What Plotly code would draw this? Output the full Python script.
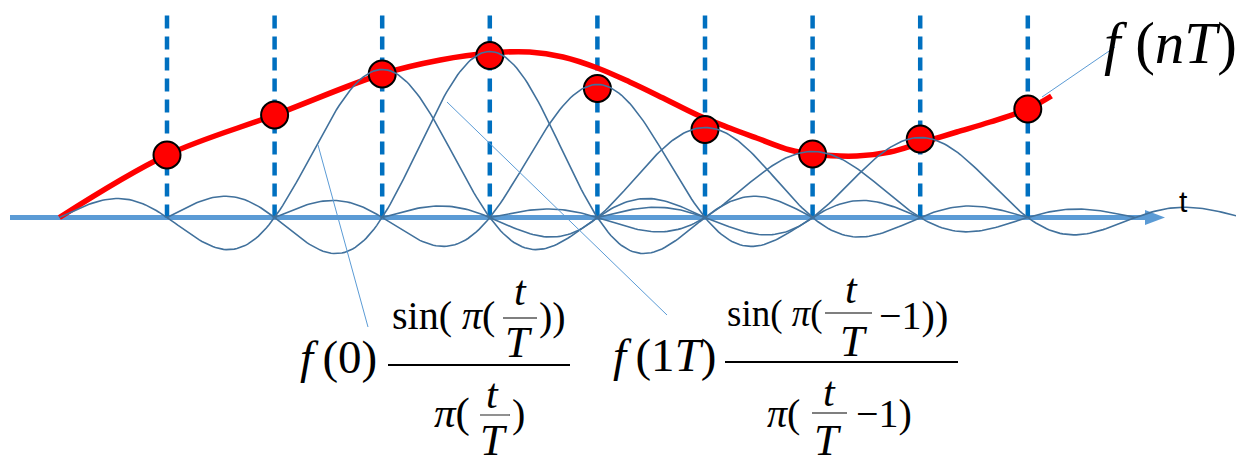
import numpy as np
import plotly.graph_objects as go

W, H = 1244, 455
OFF = 8  # page margin of the browser body
FW, FH = W - OFF, H - OFF

# sample instants (in units of T) and sampled values f(nT)
sample_n = [1, 2, 3, 4, 5, 6, 7, 8, 9]
sample_v = [62.5, 102.5, 143.5, 162, 129, 88, 63.5, 78.5, 108.5]

# shifted sinc pulses that are drawn: centre and peak height
sinc_n = [3, 4, 5, 6, 7, 8]
sinc_amp = [148, 166, 133, 90, 66, 80]

# hand drawn reconstructed signal (red)
red_t = [0.0, 1.0, 2.0, 3.0, 3.54, 4.0, 4.37, 4.68, 5.0, 5.30, 5.61, 5.93,
         6.23, 6.48, 6.79, 7.0, 7.41, 7.72, 8.03, 8.34, 8.65, 9.0, 9.22]
red_v = [0, 62.5, 102.5, 143.5, 157.5, 164.5, 165.5, 160.5, 149.5, 135.5, 119.5,
         102.5, 89.5, 79.5, 67.5, 63.5, 61.5, 65.5, 75.5, 85.5, 95.5, 108.5, 121.5]

STEM_TOP = 204.5

# pixel layout of the picture
X0, DX, BASE = 59.4, 107.6, 217.5


def px(x):
    return (x - OFF) / FW


def py(y):
    return 1 - (y - OFF) / FH


SERIF = "Liberation Serif, Times New Roman, serif"

fig = go.Figure()

for n in sample_n:
    fig.add_scatter(x=[n, n], y=[0, STEM_TOP], mode="lines",
                    line=dict(color="#0070C0", width=4.5, dash="13px,8px"),
                    hoverinfo="skip", showlegend=False)

fig.add_scatter(x=red_t, y=red_v, mode="lines",
                line=dict(color="#FF0000", width=5.5, shape="spline"),
                hoverinfo="skip", showlegend=False)

fig.add_scatter(x=sample_n, y=sample_v, mode="markers",
                marker=dict(size=27, color="#FF0000", line=dict(color="black", width=2)),
                hoverinfo="skip", showlegend=False)

for n, a in zip(sinc_n, sinc_amp):
    t = np.linspace(n - 3, n + 3, 241)
    fig.add_scatter(x=t, y=a * np.sinc(t - n), mode="lines",
                    line=dict(color="#41719C", width=1.6),
                    hoverinfo="skip", showlegend=False)

shapes = [
    # time axis with arrow head
    dict(type="line", xref="paper", yref="paper", x0=px(10), x1=px(1147),
         y0=py(BASE), y1=py(BASE), line=dict(color="#5B9BD5", width=5), layer="below"),
    dict(type="path", xref="paper", yref="paper", layer="below",
         path=f"M {px(1145)} {py(BASE - 7.5)} L {px(1165)} {py(BASE)} L {px(1145)} {py(BASE + 7.5)} Z",
         fillcolor="#5B9BD5", line=dict(width=0)),
]

# leader lines
for (xa, ya, xb, yb) in [(318, 145, 368, 327), (447, 102, 667, 315), (1115, 47, 1042, 97)]:
    shapes.append(dict(type="line", xref="paper", yref="paper",
                       x0=px(xa), y0=py(ya), x1=px(xb), y1=py(yb),
                       line=dict(color="#5B9BD5", width=1)))

# fraction bars
for (xa, xb, y, w, c) in [(388, 570, 365, 2, "black"), (503, 537, 318, 1.3, "#555555"),
                          (480, 510, 415, 1.3, "#555555"),
                          (725, 958, 362, 2, "black"), (825, 872, 313, 1.3, "#555555"),
                          (812, 847, 413, 1.3, "#555555")]:
    shapes.append(dict(type="line", xref="paper", yref="paper",
                       x0=px(xa), x1=px(xb), y0=py(y), y1=py(y),
                       line=dict(color=c, width=w)))


def txt(s, x, y, size, xanchor="left"):
    return dict(text=s, x=px(x), y=py(y), xref="paper", yref="paper",
                xanchor=xanchor, yanchor="middle", showarrow=False,
                font=dict(family=SERIF, size=size, color="black"))


annotations = [
    txt("<i>f</i> (<i>nT</i>)", 1102, 43, 59),
    dict(text="t", x=px(1183), y=py(201), xref="paper", yref="paper", showarrow=False,
         xanchor="center", yanchor="middle",
         font=dict(family="Liberation Sans, Arial, sans-serif", size=30, color="black")),
    # f(0) sin(pi t/T) / (pi t/T)
    txt("<i>f</i>\u2009(0)", 298, 357, 47),
    txt("sin( <i>π</i>(", 390, 315, 40),
    txt("<i>t</i>", 520, 291, 42, "center"),
    txt("<i>T</i>", 519, 342, 44, "center"),
    txt("))", 537, 316, 40),
    txt("<i>π</i>(", 432, 413, 43),
    txt("<i>t</i>", 493, 394, 42, "center"),
    txt("<i>T</i>", 494, 440, 44, "center"),
    txt(")", 510, 413, 40),
    # f(1T) sin(pi(t/T-1)) / (pi(t/T-1))
    txt("<i>f</i>\u2009(1<i>T</i>)", 611, 355, 47),
    txt("sin( <i>π</i>(", 725, 314, 37),
    txt("<i>t</i>", 851, 289, 42, "center"),
    txt("<i>T</i>", 854, 341, 44, "center"),
    txt("−1))", 877, 315, 40),
    txt("<i>π</i>(", 765, 413, 40),
    txt("<i>t</i>", 829, 392, 42, "center"),
    txt("<i>T</i>", 828, 440, 44, "center"),
    txt("−1)", 854, 413, 40),
]

fig.update_layout(
    width=FW, height=FH, margin=dict(l=0, r=0, t=0, b=0),
    paper_bgcolor="white", plot_bgcolor="white",
    xaxis=dict(range=[(OFF - X0) / DX, (W - X0) / DX], visible=False, fixedrange=True),
    yaxis=dict(range=[BASE - H, BASE - OFF], visible=False, fixedrange=True),
    shapes=shapes, annotations=annotations, showlegend=False,
)

fig.write_html("out.html")
